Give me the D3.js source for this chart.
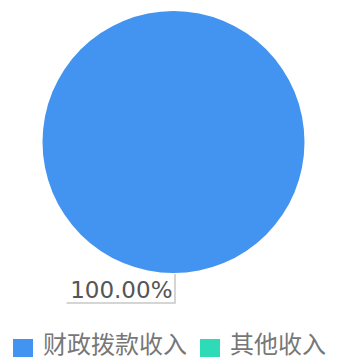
<!DOCTYPE html>
<html>
<head>
<meta charset="utf-8">
<script src="https://cdn.jsdelivr.net/npm/d3@7"></script>
<style>
  body { margin: 0; background: #fff; }
</style>
</head>
<body>
<svg width="340" height="360"></svg>
<script>
// data
let categories = ["财政拨款收入", "其他收入"];
let values = [100, 0];
let colors = ["#4393F0", "#2FDAB7"];

let svg = d3.select("svg");
let cx = 173.5, cy = 142, r = 131;

let pie = d3.pie().sort(null).startAngle(0).endAngle(2 * Math.PI);
let arcs = pie(values);
let arc = d3.arc().innerRadius(0).outerRadius(r);

let g = svg.append("g").attr("transform", "translate(" + cx + "," + cy + ")");

g.selectAll(".slice")
    .data(arcs)
    .enter()
    .append("path")
    .attr("class", "slice")
    .attr("d", arc)
    .attr("fill", (d, i) => colors[i]);

let total = d3.sum(values);

// label only the non-empty slice
arcs.filter(d => d.value > 0).forEach(d => {
    let mid = (d.startAngle + d.endAngle) / 2;
    let x0 = Math.sin(mid) * r, y0 = -Math.cos(mid) * r;
    let y1 = y0 + 30;
    let x2 = x0 - 107;
    g.append("path")
        .attr("d", "M" + (x0 + 1.5) + "," + (y0 + 1) + "L" + (x0 + 1.5) + "," + y1 + "L" + x2 + "," + y1)
        .attr("fill", "none")
        .attr("stroke", "#c8c8c8")
        .attr("stroke-width", 1.5);
    g.append("text")
        .attr("x", x0 - 1)
        .attr("y", y1 - 5)
        .attr("text-anchor", "end")
        .attr("font-family", "DejaVu Sans")
        .attr("font-size", 23)
        .attr("fill", "#555")
        .text((d.value / total * 100).toFixed(2) + "%");
});

// legend
let legend = svg.append("g");
let lx = 13;
categories.forEach((c, i) => {
    let item = legend.append("g").attr("transform", "translate(" + lx + ",339)");
    item.append("rect").attr("width", 20).attr("height", 18).attr("fill", colors[i]);
    let t = item.append("text")
        .attr("x", 30)
        .attr("y", 14)
        .attr("font-family", "Noto Sans CJK SC")
        .attr("font-size", 24)
        .attr("fill", "#777")
        .text(c);
    lx += 30 + t.node().getComputedTextLength() + 13;
});
</script>
</body>
</html>
